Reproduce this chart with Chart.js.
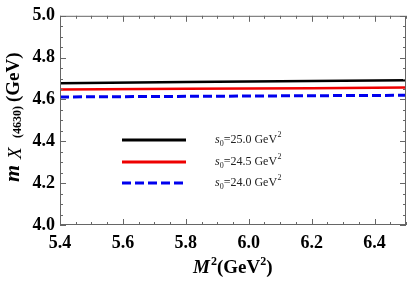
<!DOCTYPE html>
<html>
<head>
<meta charset="utf-8">
<script src="https://cdn.jsdelivr.net/npm/chart.js@4"></script>
<style>
body { margin: 0; background: #fff; }
#caja { width: 409px; height: 282px; }
</style>
</head>
<body>
<div id="caja"><canvas id="myChart"></canvas></div>
<script>
// DATOS
const masas = [5.4, 5.8, 6.2, 6.5];
const serieS25 = [4.678, 4.683, 4.688, 4.692];
const serieS245 = [4.648, 4.651, 4.654, 4.657];
const serieS24 = [4.612, 4.615, 4.618, 4.620];
const valoresS0 = ["25.0", "24.5", "24.0"];
const ticksX = [5.4, 5.6, 5.8, 6.0, 6.2, 6.4];
const ticksY = [4.0, 4.2, 4.4, 4.6, 4.8, 5.0];

const colores = ["#000000", "#ee0000", "#0000ee"];
const serif = "'Liberation Serif', 'DejaVu Serif', serif";

function puntos(serie) {
  return masas.map((m, i) => ({ x: m, y: serie[i] }));
}

// escribe trozos de texto seguidos: [fuente, texto, desplazamiento vertical, hueco antes]
function escribir(ctx, partes, x, y) {
  partes.forEach(p => {
    ctx.font = p[0] + serif;
    x += p[3] || 0;
    ctx.fillText(p[1], x, y + p[2]);
    x += ctx.measureText(p[1]).width;
  });
}

// PLUGIN: MARCO, TICKS MENORES, LEYENDA Y TITULOS
const marco = {
  id: "marco",
  afterDraw(chart) {
    const ctx = chart.ctx;
    const a = chart.chartArea;
    const sx = chart.scales.x;
    const sy = chart.scales.y;
    ctx.save();
    ctx.strokeStyle = "#666";
    ctx.lineWidth = 1;
    ctx.strokeRect(a.left + 0.5, a.top + 0.5, a.right - a.left - 1, a.bottom - a.top - 1);

    // ticks x (cada 0.05)
    for (let k = 0; k <= 22; k++) {
      const v = 5.4 + k * 0.05;
      const px = Math.round(sx.getPixelForValue(v)) + 0.5;
      const len = k % 4 === 0 ? 6 : 3;
      ctx.beginPath();
      ctx.moveTo(px, a.bottom);
      ctx.lineTo(px, a.bottom - len);
      ctx.moveTo(px, a.top);
      ctx.lineTo(px, a.top + len);
      ctx.stroke();
    }
    // ticks y
    for (let k = 0; k <= 20; k++) {
      const v = 4.0 + k * 0.05;
      const py = Math.round(sy.getPixelForValue(v)) + 0.5;
      const len = k % 4 === 0 ? 6 : 3;
      ctx.beginPath();
      ctx.moveTo(a.left, py);
      ctx.lineTo(a.left + len, py);
      ctx.moveTo(a.right, py);
      ctx.lineTo(a.right - len, py);
      ctx.stroke();
    }

    // leyenda
    const yLey = [140, 162, 183];
    for (let i = 0; i < 3; i++) {
      ctx.strokeStyle = colores[i];
      ctx.lineWidth = 3;
      ctx.setLineDash(i === 2 ? [9, 4] : []);
      ctx.beginPath();
      ctx.moveTo(122, yLey[i]);
      ctx.lineTo(186, yLey[i]);
      ctx.stroke();
      ctx.setLineDash([]);

      ctx.fillStyle = "#222";
      ctx.textBaseline = "middle";
      escribir(ctx, [
        ["italic 12px ", "s", 0],
        ["8px ", "0", 4],
        ["12px ", "=" + valoresS0[i] + " GeV", 0],
        ["8px ", "2", -5, 0.5]
      ], 215, yLey[i]);
    }

    // titulo eje x
    ctx.fillStyle = "#000";
    ctx.textBaseline = "alphabetic";
    escribir(ctx, [
      ["italic bold 19px ", "M", 0],
      ["bold 12px ", "2", -8, 1],
      ["bold 19px ", "(GeV", 0],
      ["bold 12px ", "2", -8],
      ["bold 19px ", ")", 0]
    ], 193, 273);

    // titulo eje y (posiciones a lo largo del texto)
    ctx.translate(19, 182);
    ctx.rotate(-Math.PI / 2);
    const partesY = [
      ["italic bold 22px ", "m", 0, 0],
      ["italic 19px ", "X", 2, 23],
      ["bold 12px ", "(4630)", 2, 44],
      ["bold 19px ", "(GeV)", 0, 80]
    ];
    partesY.forEach(p => {
      ctx.font = p[0] + serif;
      ctx.fillText(p[1], p[3], p[2]);
    });
    ctx.restore();
  }
};

const ctx = document.getElementById("myChart").getContext("2d");
const myChart = new Chart(ctx, {
  type: "line",
  data: {
    datasets: [
      { data: puntos(serieS25), borderColor: colores[0], borderWidth: 2.5 },
      { data: puntos(serieS245), borderColor: colores[1], borderWidth: 2.5 },
      { data: puntos(serieS24), borderColor: colores[2], borderWidth: 3, borderDash: [9, 4] }
    ]
  },
  options: {
    responsive: true,
    maintainAspectRatio: false,
    animation: false,
    layout: { padding: { top: 11, right: 3, left: 0, bottom: 0 } },
    elements: { point: { radius: 0 }, line: { tension: 0 } },
    plugins: { legend: { display: false }, tooltip: { enabled: false } },
    scales: {
      x: {
        type: "linear",
        min: 5.4,
        max: 6.5,
        afterBuildTicks: s => { s.ticks = ticksX.map(v => ({ value: v })); },
        afterFit: s => { s.height = 57; },
        grid: { display: false, drawTicks: false },
        border: { display: false },
        ticks: {
          padding: 8,
          color: "#000",
          maxRotation: 0,
          font: { family: serif, size: 18, weight: "bold" },
          callback: v => v.toFixed(1)
        }
      },
      y: {
        min: 4.0,
        max: 5.0,
        afterBuildTicks: s => { s.ticks = ticksY.map(v => ({ value: v })); },
        afterFit: s => { s.width = 60; },
        grid: { display: false, drawTicks: false },
        border: { display: false },
        ticks: {
          padding: 5,
          color: "#000",
          font: { family: serif, size: 18, weight: "bold" },
          callback: v => v.toFixed(1)
        }
      }
    }
  },
  plugins: [marco]
});
</script>
</body>
</html>
